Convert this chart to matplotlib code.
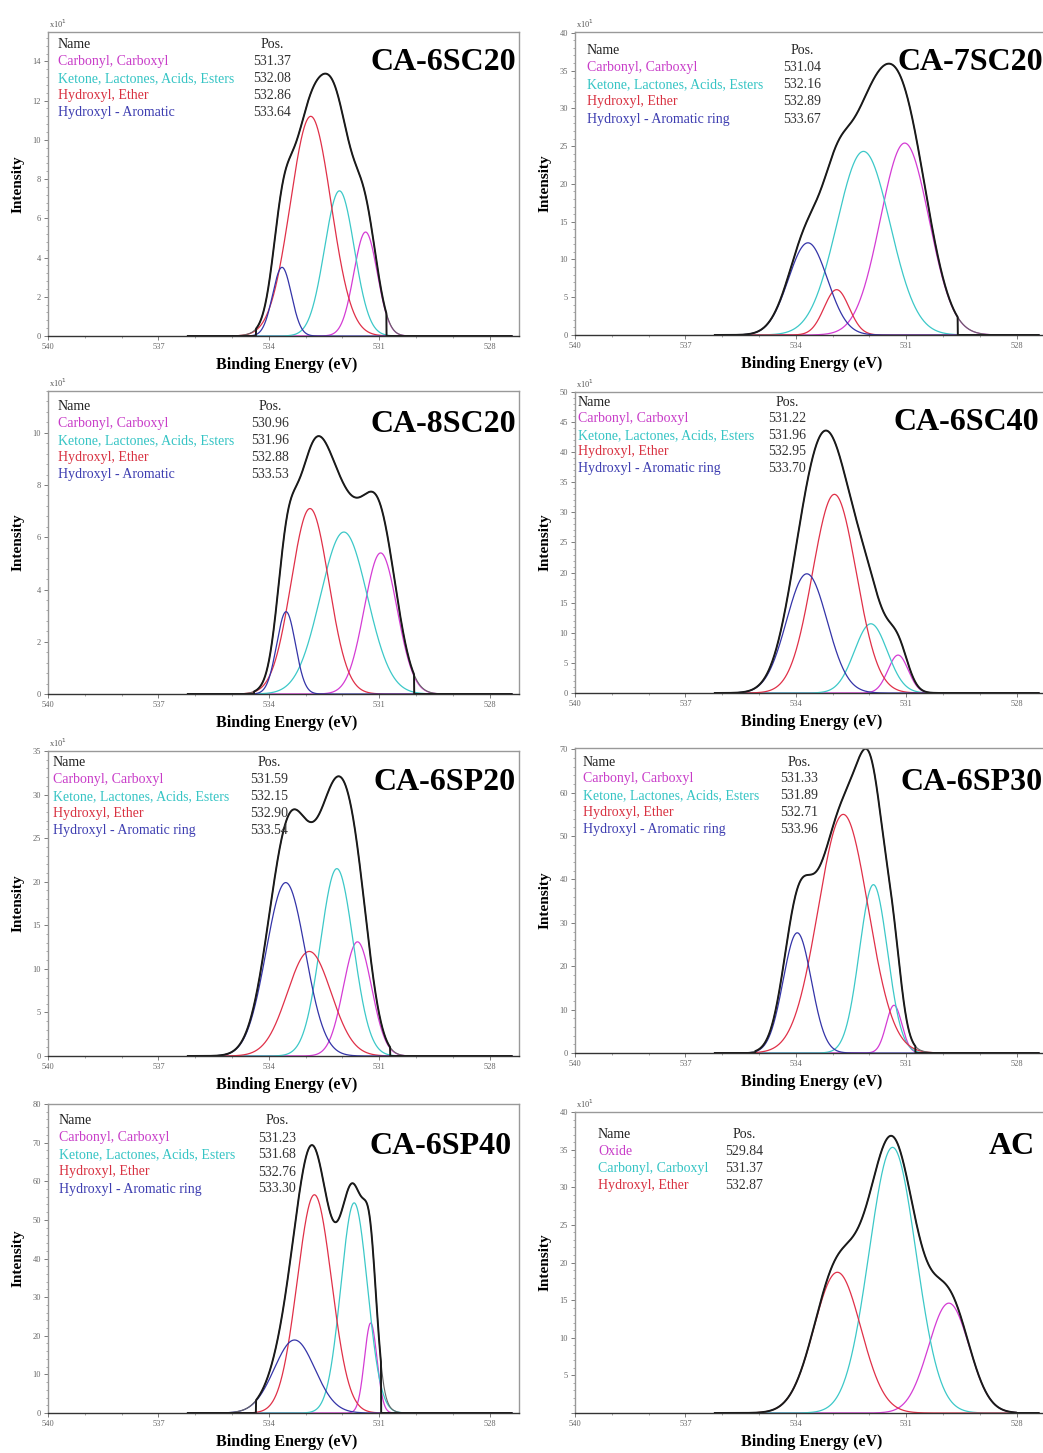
import numpy as np
import matplotlib
matplotlib.use('Agg')
import matplotlib.pyplot as plt
from matplotlib.ticker import MultipleLocator, AutoMinorLocator, FuncFormatter

plt.rcParams['font.family'] = ['Liberation Serif', 'DejaVu Serif']

W, H = 1043, 1453

# ---- data (O1s fits, intensity in x10^1) ----
titles = ['CA-6SC20', 'CA-7SC20', 'CA-8SC20', 'CA-6SC40',
          'CA-6SP20', 'CA-6SP30', 'CA-6SP40', 'AC']

names4 = ['Carbonyl, Carboxyl', 'Ketone, Lactones, Acids, Esters',
          'Hydroxyl, Ether', 'Hydroxyl - Aromatic ring']
names4_short = ['Carbonyl, Carboxyl', 'Ketone, Lactones, Acids, Esters',
                'Hydroxyl, Ether', 'Hydroxyl - Aromatic']
names_ac = ['Oxide', 'Carbonyl, Carboxyl', 'Hydroxyl, Ether']
peak_names = [names4_short, names4, names4_short, names4,
              names4, names4, names4, names_ac]

peak_pos = [
    [531.37, 532.08, 532.86, 533.64],
    [531.04, 532.16, 532.89, 533.67],
    [530.96, 531.96, 532.88, 533.53],
    [531.22, 531.96, 532.95, 533.70],
    [531.59, 532.15, 532.90, 533.54],
    [531.33, 531.89, 532.71, 533.96],
    [531.23, 531.68, 532.76, 533.30],
    [529.84, 531.37, 532.87],
]
peak_height = [
    [5.3, 7.4, 11.2, 3.5],
    [25.4, 24.3, 6.0, 12.2],
    [5.4, 6.2, 7.1, 3.15],
    [6.3, 11.5, 33.0, 19.8],
    [13.1, 21.5, 12.0, 19.9],
    [11.0, 38.8, 55.0, 27.7],
    [23.3, 54.4, 56.5, 18.9],
    [14.6, 35.3, 18.7],
]
peak_fwhm = [
    [0.75, 0.95, 1.3, 0.6],
    [1.55, 1.7, 0.8, 1.25],
    [1.05, 1.5, 1.2, 0.6],
    [0.65, 1.05, 1.4, 1.3],
    [0.9, 1.05, 1.4, 1.25],
    [0.5, 0.9, 1.6, 0.9],
    [0.4, 0.85, 1.1, 1.3],
    [1.3, 1.5, 1.5],
]
# energy window of the measured envelope
regions = [(530.8, 534.35), (529.6, 535.7), (530.05, 534.4), (529.3, 536.0),
           (530.7, 536.0), (530.75, 535.1), (530.95, 534.35), (528.0, 536.2)]
y_top = [15.5, 40.1, 11.6, 50, 35, 70.3, 80, 40]
y_step = [2, 5, 2, 5, 5, 10, 10, 5]
show_exp = [True, True, True, True, True, False, False, True]

colors4 = ['#d43cd4', '#3cc8c8', '#e03048', '#3434a8']
colors_ac = ['#d43cd4', '#3cc8c8', '#e03048']
text4 = ['#c83cc8', '#34c4c4', '#d83040', '#3c3cb0']

# ---- layout (pixels) ----
ax_px = [(48, 32, 519, 336), (575, 32, 1046, 335),
         (48, 391, 519, 694), (575, 392, 1046, 693),
         (48, 751, 519, 1056), (575, 748, 1046, 1053),
         (48, 1104, 519, 1413), (575, 1112, 1046, 1413)]
title_px = [(443, 63), (970, 63), (443, 425), (966, 423),
            (445, 783), (972, 783), (441, 1147), (1012, 1146)]
# legend: name x, value x, first row y, row step
legend_px = [(58, 253, 44, 17.2), (587, 783, 50, 17.3),
             (58, 251, 407, 16.8), (578, 768, 402, 16.6),
             (53, 250, 763, 16.8), (583, 780, 762, 16.8),
             (59, 258, 1121, 17.0), (598, 725, 1135, 16.9)]

fig = plt.figure(figsize=(W / 100, H / 100), dpi=100)


def fx(x):
    return x / W


def fy(y):
    return 1 - y / H


x = np.linspace(536.2, 527.4, 1500)

for i in range(8):
    l, t, r, b = ax_px[i]
    ax = fig.add_axes([fx(l), fy(b), (r - l) / W, (b - t) / H])
    cols = colors_ac if i == 7 else colors4
    total = np.zeros_like(x)
    for c, h, w, col in zip(peak_pos[i], peak_height[i], peak_fwhm[i], cols):
        s = w / 2.3548
        comp = h * np.exp(-0.5 * ((x - c) / s) ** 2)
        total += comp
        ax.plot(x, comp, color=col, lw=0.9)
    lo, hi = regions[i]
    data = np.where((x >= lo) & (x <= hi), total, 0)
    ax.plot(x, total, color='#666666', lw=0.8)
    ax.plot(x, data, color='#1a1a1a', lw=1.4)

    ax.set_xlim(540, 527.2)
    ax.set_ylim(0, y_top[i])
    ax.xaxis.set_major_locator(MultipleLocator(3))
    ax.xaxis.set_minor_locator(AutoMinorLocator(3))
    ax.yaxis.set_major_locator(MultipleLocator(y_step[i]))
    ax.yaxis.set_minor_locator(AutoMinorLocator(5))
    if i == 7:
        ax.yaxis.set_major_formatter(FuncFormatter(lambda v, p: '' if v == 0 else '%d' % v))
    else:
        ax.yaxis.set_major_formatter(FuncFormatter(lambda v, p: '%d' % v))
    ax.tick_params(which='major', length=3, width=0.6, labelsize=6,
                   colors='#666666', pad=2)
    ax.tick_params(which='minor', length=1.5, width=0.5, colors='#888888')
    for sp in ax.spines.values():
        sp.set_color('#999999')
        sp.set_linewidth(1.0)
    ax.spines['bottom'].set_color('#333333')

    if show_exp[i]:
        ax.text(0.003, 1.005, r'x10$^1$', transform=ax.transAxes,
                fontsize=6, color='#555555', va='bottom', ha='left')

    # legend table
    nx, vx, y0, dy = legend_px[i]
    fig.text(fx(nx), fy(y0), 'Name', fontsize=10, color='#222222', va='center')
    fig.text(fx(vx + 8), fy(y0), 'Pos.', fontsize=10, color='#222222', va='center')
    tcols = text4 if i < 7 else text4[:3]
    for k, (nm, p) in enumerate(zip(peak_names[i], peak_pos[i])):
        yy = y0 + dy * (k + 1)
        fig.text(fx(nx), fy(yy), nm, fontsize=10, color=tcols[k], va='center')
        fig.text(fx(vx), fy(yy), '%.2f' % p, fontsize=10, color='#333333', va='center')

    tx, ty = title_px[i]
    fig.text(fx(tx), fy(ty), titles[i], fontsize=23, fontweight='bold',
             ha='center', va='center', color='black')

    # axis labels
    cx = (l + min(r, W)) / 2
    fig.text(fx(cx + 3), fy(b + 29), 'Binding Energy (eV)', fontsize=11.5,
             fontweight='bold', ha='center', va='center')
    fig.text(fx(l - 30), fy((t + b) / 2), 'Intensity', fontsize=11,
             fontweight='bold', rotation=90, ha='center', va='center')

fig.savefig('out.png', dpi=100, facecolor='white')
